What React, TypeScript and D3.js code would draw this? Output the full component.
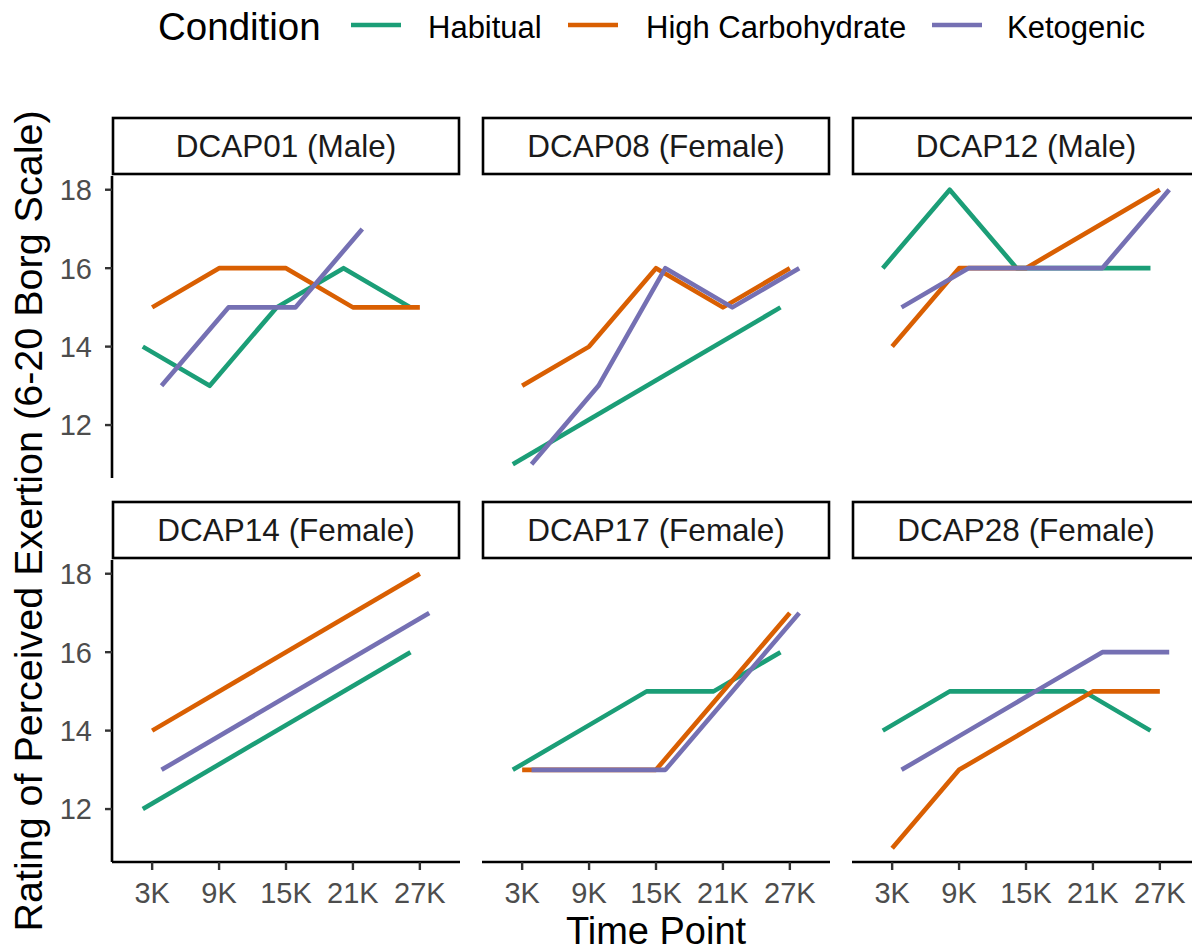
import * as d3 from 'd3';

const participants = ['DCAP01', 'DCAP08', 'DCAP12', 'DCAP14', 'DCAP17', 'DCAP28'];
const sexes = ['Male', 'Female', 'Male', 'Female', 'Female', 'Female'];
const timePoints = ['3K', '9K', '15K', '21K', '27K'];
const conditions = ['Habitual', 'High Carbohydrate', 'Ketogenic'];
const palette = ['#1B9E77', '#D95F02', '#7570B3'];
const yTicks = [12, 14, 16, 18];

// RPE per participant (rows) and time point (columns); null = not recorded
const habitual = [
    [14, 13, 15, 16, 15],
    [11, null, null, null, 15],
    [16, 18, 16, 16, 16],
    [12, null, null, null, 16],
    [13, 14, 15, 15, 16],
    [14, 15, 15, 15, 14],
];
const highCarb = [
    [15, 16, 16, 15, 15],
    [13, 14, 16, 15, 16],
    [14, 16, 16, 17, 18],
    [14, null, null, null, 18],
    [13, 13, 13, 15, 17],
    [11, 13, 14, 15, 15],
];
const ketogenic = [
    [13, 15, 15, 17, null],
    [11, 13, 16, 15, 16],
    [15, 16, 16, 16, 18],
    [13, null, null, null, 17],
    [13, 13, 13, 15, 17],
    [13, 14, 15, 16, 16],
];
const series = [habitual, highCarb, ketogenic];

const width = 1192;
const height = 951;
const font = '"Liberation Sans", Arial, sans-serif';

const panelW = 348;
const colLeft = [112, 482, 852];
const rowTop = [176, 560];
const panelH = 302;
const stripH = 56;
const dodge = 0.42;

function Panel({ idx }) {
    const col = idx % 3;
    const row = Math.floor(idx / 3);
    const left = colLeft[col];
    const top = rowTop[row];

    const x = d3.scalePoint(timePoints, [left, left + panelW]).padding(0.6);
    const y = d3.scaleLinear([10.65, 18.35], [top + panelH, top]);
    const step = x.step();

    const line = d3.line().x(d => d[0]).y(d => d[1]).curve(d3.curveLinear);

    return (
        <g>
            <rect x={left + 1} y={top - stripH - 2} width={panelW - 2} height={stripH}
                fill="#fff" stroke="#000" strokeWidth={2.6} />
            <text x={left + panelW / 2} y={top - 19} textAnchor="middle" fontSize={31.5}
                fill="#1a1a1a" fontFamily={font}>{`${participants[idx]} (${sexes[idx]})`}</text>

            {series.map((vals, ci) => {
                const off = (ci - 1) * (dodge / 3) * step;
                const pts = vals[idx]
                    .map((v, ti) => (v == null ? null : [x(timePoints[ti]) + off, y(v)]))
                    .filter(p => p != null);
                return (
                    <path key={ci} d={line(pts)} fill="none" stroke={palette[ci]}
                        strokeWidth={4.6} strokeLinejoin="round" strokeLinecap="butt" />
                );
            })}

            {col === 0 && (
                <g>
                    <line x1={left} x2={left} y1={top} y2={top + panelH} stroke="#000" strokeWidth={2.6} />
                    {yTicks.map(t => (
                        <g key={t}>
                            <line x1={left - 7} x2={left} y1={y(t)} y2={y(t)} stroke="#333" strokeWidth={2.4} />
                            <text x={left - 20} y={y(t)} dy="0.36em" textAnchor="end" fontSize={29}
                                fill="#4d4d4d" fontFamily={font}>{t}</text>
                        </g>
                    ))}
                </g>
            )}

            {row === 1 && (
                <g>
                    <line x1={left} x2={left + panelW} y1={top + panelH} y2={top + panelH} stroke="#000" strokeWidth={2.6} />
                    {timePoints.map(t => (
                        <g key={t}>
                            <line x1={x(t)} x2={x(t)} y1={top + panelH} y2={top + panelH + 8} stroke="#333" strokeWidth={2.4} />
                            <text x={x(t)} y={top + panelH + 41} textAnchor="middle" fontSize={29}
                                fill="#4d4d4d" fontFamily={font}>{t}</text>
                        </g>
                    ))}
                </g>
            )}
        </g>
    );
}

const legendKeys = [351, 568, 932];
const legendLabels = [428, 646, 1007];

export default function App() {
    return (
        <svg width={width} height={height} style={{ position: 'absolute', left: 0, top: 0, background: '#fff' }}>
            <rect width={width} height={height} fill="#fff" />

            <text x={158} y={40} fontSize={38.5} fontFamily={font} fill="#000">Condition</text>
            {conditions.map((c, i) => (
                <g key={c}>
                    <line x1={legendKeys[i]} x2={legendKeys[i] + 50} y1={25} y2={25}
                        stroke={palette[i]} strokeWidth={4.6} />
                    <text x={legendLabels[i]} y={37.5} fontSize={31} fontFamily={font} fill="#000">{c}</text>
                </g>
            ))}

            {participants.map((p, i) => <Panel key={p} idx={i} />)}

            <text transform={`translate(42,521) rotate(-90)`} textAnchor="middle" fontSize={39.5}
                fontFamily={font} fill="#000">Rating of Perceived Exertion (6-20 Borg Scale)</text>
            <text x={656} y={944} textAnchor="middle" fontSize={38} fontFamily={font} fill="#000">Time Point</text>
        </svg>
    );
}
